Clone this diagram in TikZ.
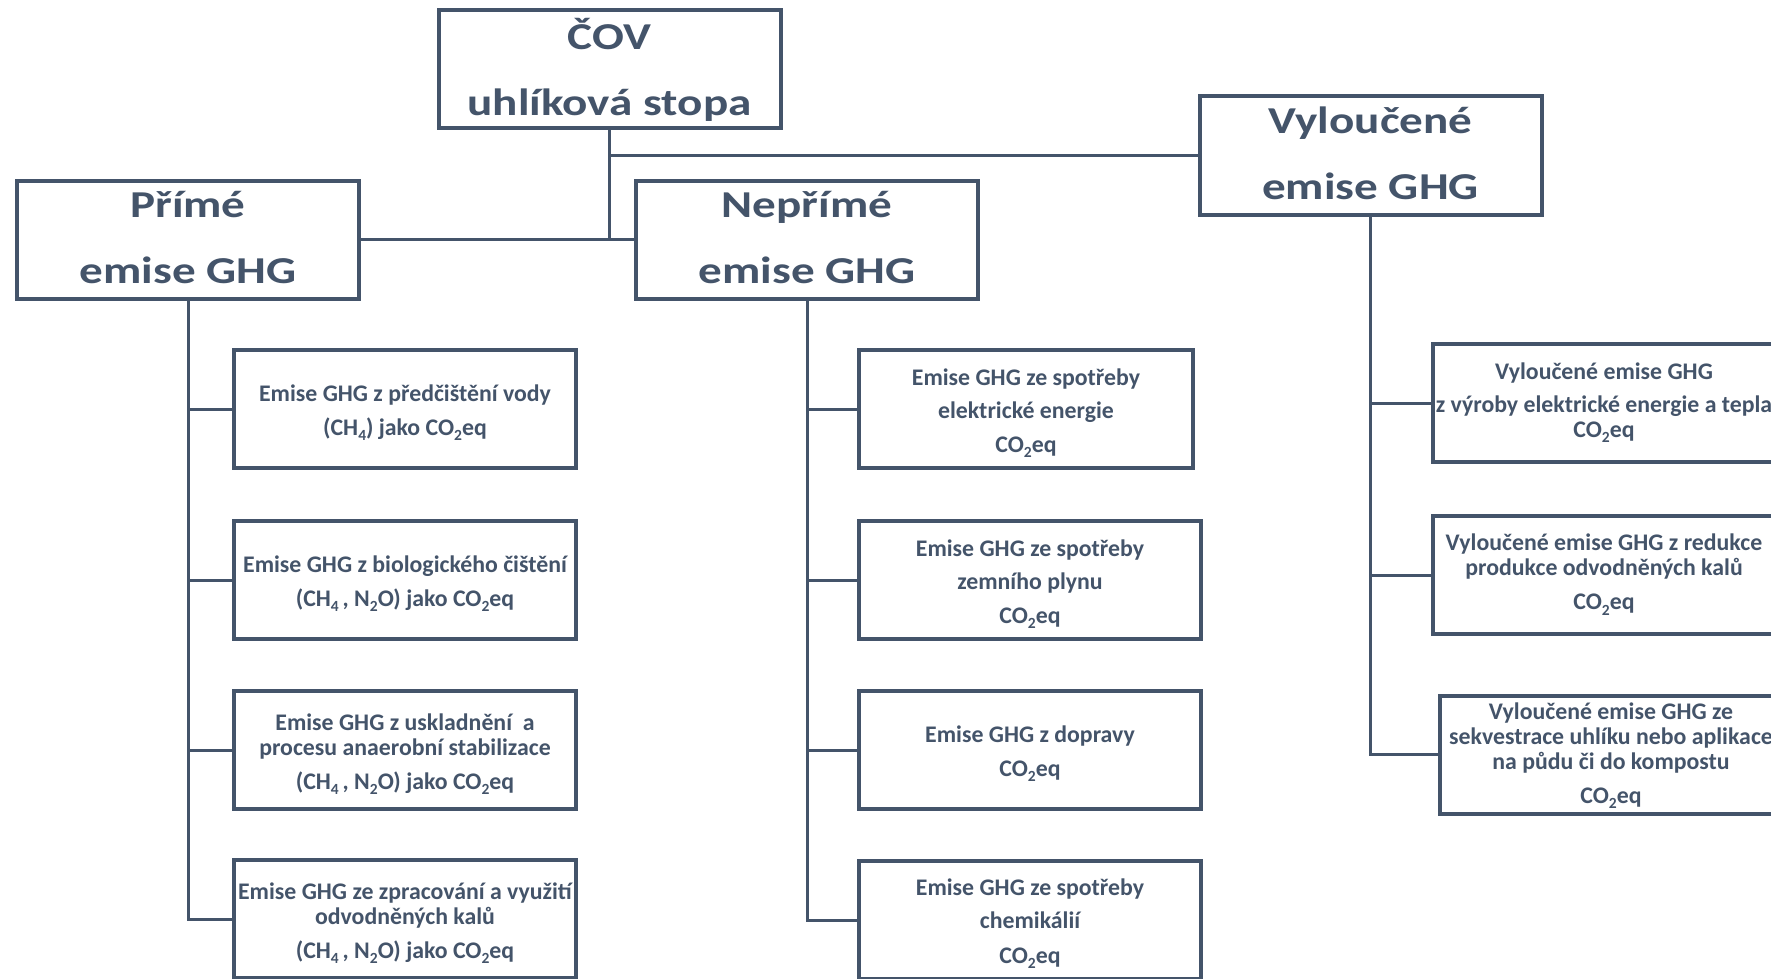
\documentclass[tikz,border=0pt]{standalone}
\usepackage{fontspec}
\setmainfont{Carlito}
\newfontfamily\hdrfont[FakeStretch=1.24]{Carlito}
\definecolor{slate}{HTML}{44546A}
\newcommand\lowidx[1]{\raisebox{-0.22em}{\fontsize{15.5}{15.5}\selectfont #1}}
\newcommand\overwide[1]{\makebox[0pt]{#1}}
\newcommand\topfill{\rule{0pt}{25pt}}
\begin{document}
\begin{tikzpicture}[x=1pt,y=-1pt,
  box/.style={draw=slate, line width=4pt, inner sep=0pt, align=center, text=slate, fill=white},
  hdr/.style={box, minimum width=342pt, minimum height=118pt, font=\hdrfont\bfseries\fontsize{38}{66}\selectfont,
    execute at end node={\rule[-5pt]{0pt}{0pt}}},
  leaf/.style={box, minimum width=342pt, minimum height=118pt, font=\bfseries\fontsize{23.8}{25}\selectfont,
    execute at end node={\rule[-6pt]{0pt}{0pt}}},
  link/.style={draw=slate, line width=3pt}]
\useasboundingbox (0,0) rectangle (1771,979);
\begin{scope}
\clip (0,0) rectangle (1771,979);
% headers
\node[hdr] (cov) at (609.5,69.5) {ČOV\\uhlíková stopa};
\node[hdr] (prim) at (188,239.5) {Přímé\\emise GHG};
\node[hdr] (nep) at (807,239.5) {Nepřímé\\emise GHG};
\node[hdr] (vyl) at (1370.5,155.5) {Vyloučené\\emise GHG};
% direct
\node[leaf] (p1) at (405,409) {\topfill Emise GHG z předčištění vody\\[9pt](CH\lowidx{4}) jako CO\lowidx{2}eq};
\node[leaf] (p2) at (405,580) {\topfill\overwide{Emise GHG z biologického čištění}\\[9pt](CH\lowidx{4}\,, N\lowidx{2}O) jako CO\lowidx{2}eq};
\node[leaf] (p3) at (405,750) {\topfill Emise GHG z uskladnění\ \ a\\procesu anaerobní stabilizace\\[9pt](CH\lowidx{4}\,, N\lowidx{2}O) jako CO\lowidx{2}eq};
\node[leaf] (p4) at (405,919) {\topfill\overwide{Emise GHG ze zpracování a využití}\\odvodněných kalů\\[9pt](CH\lowidx{4}\,, N\lowidx{2}O) jako CO\lowidx{2}eq};
% indirect
\node[leaf, minimum width=334pt] (n1) at (1026,409) {\topfill Emise GHG ze spotřeby\\[8pt]elektrické energie\\[9pt]CO\lowidx{2}eq};
\node[leaf] (n2) at (1030,580) {\topfill Emise GHG ze spotřeby\\[8pt]zemního plynu\\[9pt]CO\lowidx{2}eq};
\node[leaf] (n3) at (1030,750) {\topfill Emise GHG z dopravy\\[9pt]CO\lowidx{2}eq};
\node[leaf] (n4) at (1030,920) {\topfill Emise GHG ze spotřeby\\[8pt]chemikálií\\[10pt]CO\lowidx{2}eq};
% avoided
\node[leaf] (v1) at (1604,403) {Vyloučené emise GHG\\[8pt]\overwide{z výroby elektrické energie a tepla}\\CO\lowidx{2}eq};
\node[leaf] (v2) at (1604,575) {Vyloučené emise GHG z redukce\\produkce odvodněných kalů\\[9pt]CO\lowidx{2}eq};
\node[leaf] (v3) at (1611,754.5) {\rule{0pt}{20pt}Vyloučené emise GHG ze\\\overwide{sekvestrace uhlíku nebo aplikace}\\na půdu či do kompostu\\[9pt]CO\lowidx{2}eq};
% connectors
\draw[link] (cov.south) -- (cov.south |- prim.east);
\draw[link] (prim.east) -- (nep.west);
\draw[link] (cov.south |- vyl.west) -- (vyl.west);
\draw[link] (prim.south) |- (p4.west);
\draw[link] (prim.south |- p1.west) -- (p1.west);
\draw[link] (prim.south |- p2.west) -- (p2.west);
\draw[link] (prim.south |- p3.west) -- (p3.west);
\draw[link] (nep.south) |- (n4.west);
\draw[link] (nep.south |- n1.west) -- (n1.west);
\draw[link] (nep.south |- n2.west) -- (n2.west);
\draw[link] (nep.south |- n3.west) -- (n3.west);
\draw[link] (vyl.south) |- (v3.west);
\draw[link] (vyl.south |- v1.west) -- (v1.west);
\draw[link] (vyl.south |- v2.west) -- (v2.west);
\end{scope}
\end{tikzpicture}
\end{document}
